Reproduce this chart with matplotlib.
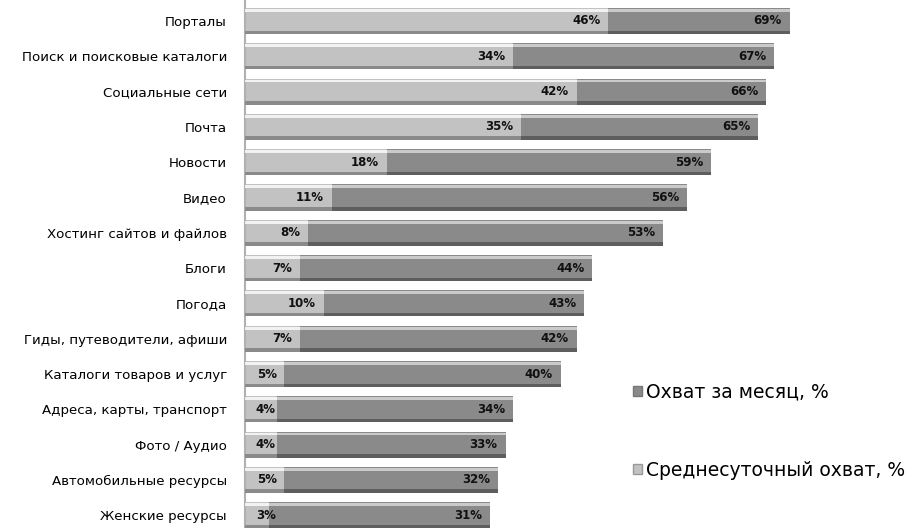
import matplotlib.pyplot as plt
from matplotlib.patches import Patch

plt.rcParams['font.family'] = ['DejaVu Sans']

categories = [
    "Порталы", "Поиск и поисковые каталоги", "Социальные сети", "Почта",
    "Новости", "Видео", "Хостинг сайтов и файлов", "Блоги", "Погода",
    "Гиды, путеводители, афиши", "Каталоги товаров и услуг",
    "Адреса, карты, транспорт", "Фото / Аудио", "Автомобильные ресурсы",
    "Женские ресурсы",
]
monthly = [69, 67, 66, 65, 59, 56, 53, 44, 43, 42, 40, 34, 33, 32, 31]
daily = [46, 34, 42, 35, 18, 11, 8, 7, 10, 7, 5, 4, 4, 5, 3]

series_labels = ["Охват за месяц, %", "Среднесуточный охват, %"]
dark = "#8a8a8a"
light = "#c2c2c2"

fig = plt.figure(figsize=(9.24, 5.28), dpi=100)
ax = fig.add_axes([245 / 924, 0, 671 / 924, 1])

y = list(range(len(categories)))
h = 0.74


def shaded_bars(values, color, shade):
    ax.barh(y, values, height=h, color=color, edgecolor="none", zorder=2)
    # crude 3d look: light strip on top, dark strip at the bottom
    ax.barh([i - h / 2 + 0.07 for i in y], values, height=0.08,
            color="white", alpha=0.55, edgecolor="none", zorder=3)
    ax.barh([i + h / 2 - 0.05 for i in y], values, height=0.1,
            color=shade, edgecolor="none", zorder=3)


shaded_bars(monthly, dark, "#5e5e5e")
shaded_bars(daily, light, "#8a8a8a")

for i, (m, d) in enumerate(zip(monthly, daily)):
    ax.text(m - 1.0, i, f"{m}%", ha="right", va="center",
            fontsize=8.5, fontweight="bold", color="#111111", zorder=5)
    ax.text(max(d - 1.0, 3.9), i, f"{d}%", ha="right", va="center",
            fontsize=8.5, fontweight="bold", color="#111111", zorder=5)

ax.set_xlim(0, 85)
ax.set_ylim(507 / 35.3, -21 / 35.3)
ax.set_yticks(y)
ax.set_yticklabels(categories, fontsize=9.6)
ax.tick_params(axis="y", length=0, pad=13)
ax.set_xticks([])
for s in ["top", "right", "bottom"]:
    ax.spines[s].set_visible(False)
ax.spines["left"].set_color("#b0b0b0")
ax.spines["left"].set_linewidth(1.5)

handles = [Patch(facecolor=dark, edgecolor="#777777"),
           Patch(facecolor=light, edgecolor="#999999")]
fig.legend(handles, series_labels, loc="center left",
           bbox_to_anchor=(624 / 924, 1 - 431 / 528), frameon=False,
           fontsize=13.5, handlelength=0.45, handleheight=0.45,
           handletextpad=0.25, labelspacing=3.15, borderpad=0)

fig.savefig("out.png", dpi=100)
